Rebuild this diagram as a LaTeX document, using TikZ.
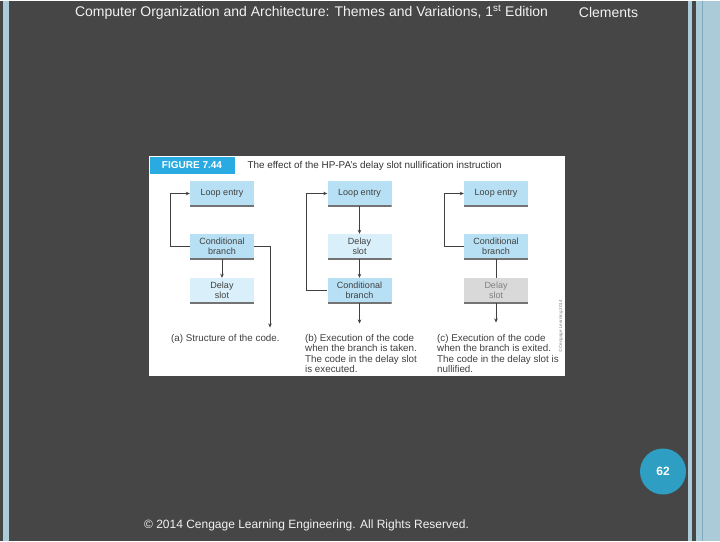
\documentclass[tikz,border=0pt]{standalone}
\usepackage{fontspec}
\setmainfont{Liberation Sans}
\usetikzlibrary{arrows.meta}

\definecolor{sfondo}{HTML}{464646}
\definecolor{azzurro}{HTML}{ABCBD8}
\definecolor{bordo}{HTML}{7FA9BC}
\definecolor{titolo}{HTML}{29AAE1}
\definecolor{cella}{HTML}{B7E0F4}
\definecolor{cellachiara}{HTML}{D9EFFA}
\definecolor{cellagrigia}{HTML}{D9D9D9}
\definecolor{pallino}{HTML}{2E9FC2}
\definecolor{scritta}{HTML}{F2F2F2}

\tikzset{
  blocco/.style={fill=cella, minimum width=64pt, minimum height=25pt, inner sep=0pt,
    align=center, text=black!75, font=\fontsize{9}{10.5}\selectfont,
    path picture={\draw[black!55, line width=1.2pt]
      (path picture bounding box.south west) -- (path picture bounding box.south east);}},
  chiaro/.style={blocco, fill=cellachiara},
  spento/.style={blocco, fill=cellagrigia, text=black!50},
  didascalia/.style={anchor=north west, align=left, inner sep=0pt, text=black!75,
    font=\fontsize{9.8}{10.5}\selectfont},
  freccia/.style={black!75, line width=0.7pt, -{Stealth[length=4pt,width=3.5pt]}},
  linea/.style={black!75, line width=0.7pt},
}

\begin{document}
\begin{tikzpicture}[x=1pt,y=-1pt]
  % Sfondo
  \fill[sfondo] (0,0) rectangle (720,540);
  \fill[azzurro] (3,0) rectangle (9,540);
  \fill[azzurro] (688,0) rectangle (692,540);
  \fill[azzurro] (696,0) rectangle (720,540);
  \draw[bordo, line width=1pt] (702,0) -- (702,540);
  \useasboundingbox (0,0) rectangle (720,540);

  % Intestazione
  \node[text=scritta, font=\fontsize{14}{16}\selectfont] (testata) at (311.5,12)
    {Computer Organization and Architecture: Themes and Variations, 1\textsuperscript{st} Edition};
  \node[text=scritta, font=\fontsize{14}{16}\selectfont] (autore) at (608.5,12) {Clements};

  % Figura
  \fill[white] (149,155) rectangle (565,375);
  \fill[titolo] (150,156) rectangle (235,173);
  \node[text=white, font=\bfseries\fontsize{10}{12}\selectfont] (numero) at (192,164.5) {FIGURE 7.44};
  \node[anchor=west, text=black!80, font=\fontsize{9.9}{11}\selectfont] (titolofig) at (244,165)
    {The effect of the HP-PA's delay slot nullification instruction};

  % Nodi (a)
  \node[blocco] (entryA) at (222,193) {Loop entry};
  \node[blocco] (branchA) at (222,246) {Conditional\\branch};
  \node[chiaro] (slotA) at (222,290) {Delay\\slot};
  \coordinate (backA) at (170,246);
  \coordinate (outA) at (270,246);
  \coordinate (endA) at (270,327);

  % Nodi (b)
  \node[blocco] (entryB) at (359.5,193) {Loop entry};
  \node[chiaro] (slotB) at (359.5,246) {Delay\\slot};
  \node[blocco] (branchB) at (359.5,290) {Conditional\\branch};
  \coordinate (backB) at (306,290);
  \coordinate (endB) at (359.5,323);

  % Nodi (c)
  \node[blocco] (entryC) at (496,193) {Loop entry};
  \node[blocco] (branchC) at (496,246) {Conditional\\branch};
  \node[spento] (slotC) at (496,290) {Delay\\slot};
  \coordinate (backC) at (444,246);
  \coordinate (endC) at (496,322);

  % Frecce
  \draw[freccia] (branchA) -- (slotA);
  \draw[freccia] (branchA.west) -- (backA) |- (entryA.west);
  \draw[freccia] (branchA.east) -- (outA) -- (endA);

  \draw[freccia] (entryB) -- (slotB);
  \draw[freccia] (slotB) -- (branchB);
  \draw[freccia] (branchB) -- (endB);
  \draw[freccia] (branchB.west) -- (backB) |- (entryB.west);

  \draw[linea] (branchC) -- (slotC);
  \draw[freccia] (slotC) -- (endC);
  \draw[freccia] (branchC.west) -- (backC) |- (entryC.west);

  % Didascalie
  \node[didascalia] (capA) at (171,333.5) {(a) Structure of the code.};
  \node[didascalia] (capB) at (305,333.5) {(b) Execution of the code\\when the branch is taken.\\The code in the delay slot\\is executed.};
  \node[didascalia] (capC) at (437,333.5) {(c) Execution of the code\\when the branch is exited.\\The code in the delay slot is\\nullified.};
  \node[rotate=90, text=black!50, font=\fontsize{4.5}{5}\selectfont] (diritti) at (561,326) {\textcopyright{} Cengage Learning 2014};

  % Pagina e piede
  \node[circle, fill=pallino, minimum size=46pt, inner sep=0pt, text=white,
    font=\bfseries\fontsize{12}{14}\selectfont] (pagina) at (663,471) {62};
  \node[text=scritta, font=\fontsize{12}{14}\selectfont] (piede) at (306.5,525)
    {\textcopyright{} 2014 Cengage Learning Engineering. All Rights Reserved.};
\end{tikzpicture}
\end{document}
